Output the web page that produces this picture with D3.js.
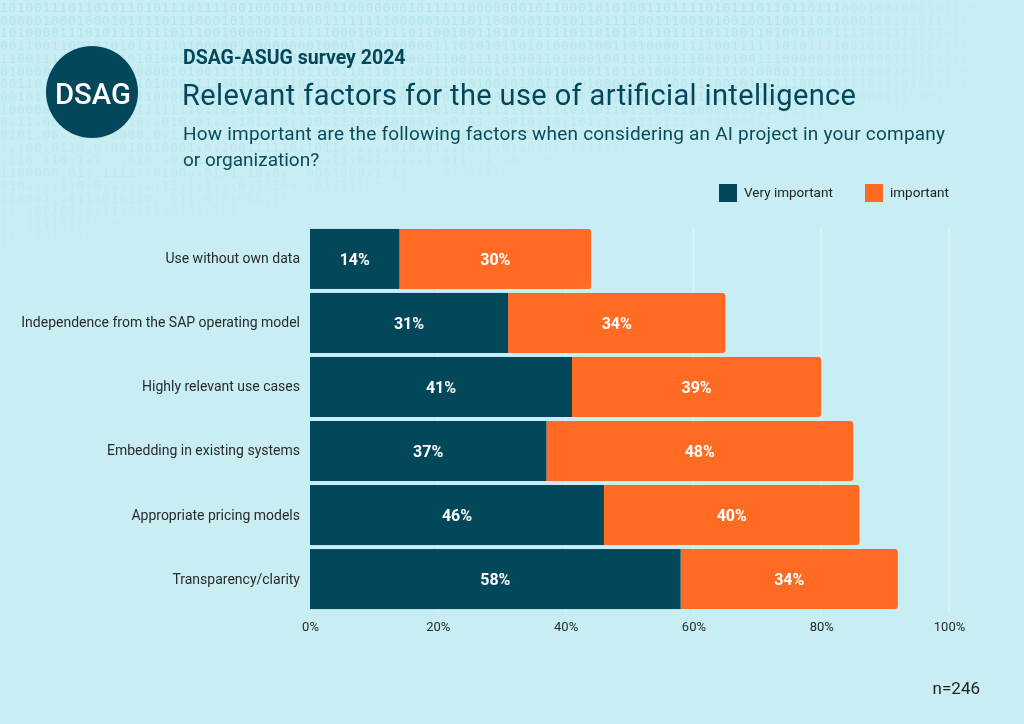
<!DOCTYPE html>
<html>
<head>
<meta charset="utf-8">
<script src="https://cdn.jsdelivr.net/npm/d3@7/dist/d3.min.js"></script>
<style>
html,body{margin:0;padding:0;background:#c8eef3;}
#wrap{position:relative;width:1024px;height:724px;}
#bg{position:absolute;left:0;top:0;}
svg{position:absolute;left:0;top:0;display:block;}
</style>
</head>
<body>
<div id="wrap">
<canvas id="bg" width="1024" height="724"></canvas>
<svg id="chart" width="1024" height="724"></svg>
</div>
<script>
const categories = ["Use without own data","Independence from the SAP operating model","Highly relevant use cases","Embedding in existing systems","Appropriate pricing models","Transparency/clarity"];
const veryImportant = [14,31,41,37,46,58];
const important = [30,34,39,48,40,34];
const seriesNames = ["Very important","important"];
const tickValues = [0,20,40,60,80,100];
const colors = ["#03475b","#ff6b22"];

const W = 1024, H = 724;

// decorative binary texture (background canvas)
(function(){
  const ctx = document.getElementById("bg").getContext("2d");
  ctx.fillStyle = "#c8eef3"; ctx.fillRect(0,0,W,H);
  let seed = 11;
  const rnd = () => { seed = (seed*1103515245 + 12345) % 2147483648; return seed/2147483648; };
  ctx.textAlign = "center"; ctx.textBaseline = "alphabetic";
  for(let r=0;r<22;r++){
    const yy = 12 + r*12.7;
    const rowMaxX = r < 8 ? 1010 : Math.max(120, 1010 - (r-7)*75);
    for(let c=0;c<120;c++){
      const xx = 4 + c*8.5;
      if(xx > rowMaxX) break;
      let a = 0.42 * (1 - Math.max(0,(xx-(rowMaxX-250))/250));
      a *= (1 - r/26);
      if(r>8 && rnd()<0.35){ ctx.font = "7px DejaVu Sans Mono"; } else { ctx.font = "13px DejaVu Sans Mono"; }
      if(a<=0) continue;
      ctx.fillStyle = `rgba(150,214,226,${a})`;
      ctx.fillText(rnd()<0.5?"0":"1", xx, yy);
    }
  }
})();

const svg = d3.select("#chart");

// logo
svg.append("circle").attr("cx",92).attr("cy",92).attr("r",46).attr("fill","#03475b");
svg.append("text").attr("x",93).attr("y",104).attr("text-anchor","middle")
  .attr("font-family","Roboto").attr("font-weight",500).attr("font-size",30).attr("fill","#fff")
  .attr("textLength",76).attr("lengthAdjust","spacingAndGlyphs").text("DSAG");

// titles
svg.append("text").attr("x",183).attr("y",64).attr("font-family","Roboto").attr("font-weight",700)
  .attr("font-size",19.5).attr("fill","#03475b").text("DSAG-ASUG survey 2024");
svg.append("text").attr("x",182).attr("y",105).attr("font-family","Roboto").attr("font-weight",400)
  .attr("font-size",29).attr("fill","#03475b").attr("textLength",674).text("Relevant factors for the use of artificial intelligence");
svg.append("text").attr("x",183).attr("y",140).attr("font-family","Roboto")
  .attr("font-size",19).attr("fill","#0b4a5c").attr("textLength",762).text("How important are the following factors when considering an AI project in your company");
svg.append("text").attr("x",183).attr("y",166).attr("font-family","Roboto")
  .attr("font-size",19).attr("fill","#0b4a5c").text("or organization?");

// legend
const legendX = [719,865];
seriesNames.forEach((n,i)=>{
  svg.append("rect").attr("x",legendX[i]).attr("y",184).attr("width",18).attr("height",18).attr("fill",colors[i]);
  svg.append("text").attr("x",legendX[i]+25).attr("y",197).attr("font-family","Roboto")
    .attr("font-size",13.5).attr("fill","#222").text(n);
});

// scales
const x = d3.scaleLinear().domain([0,100]).range([310,949]);
const y = d3.scaleBand().domain(categories).range([227,611]).paddingInner(0.0625).paddingOuter(0.03);

// gridlines
svg.append("g").selectAll("line").data(tickValues.slice(1)).join("line")
  .attr("x1",d=>x(d)).attr("x2",d=>x(d)).attr("y1",227).attr("y2",612)
  .attr("stroke","#e2f6f9").attr("stroke-width",1);

// bars
const rows = categories.map((c,i)=>({c, v:veryImportant[i], im:important[i]}));
const bars = svg.append("g");
rows.forEach(d=>{
  const y0 = y(d.c), h = y.bandwidth();
  const x0 = x(d.v), x1 = x(d.v+d.im), r = 3;
  bars.append("path").attr("fill",colors[1])
    .attr("d",`M${x0},${y0}H${x1-r}Q${x1},${y0} ${x1},${y0+r}V${y0+h-r}Q${x1},${y0+h} ${x1-r},${y0+h}H${x0}Z`);
  bars.append("rect").attr("x",x(0)).attr("y",y0).attr("width",x(d.v)-x(0)).attr("height",h).attr("fill",colors[0]);
  bars.append("text").attr("x",(x(0)+x(d.v))/2).attr("y",y0+h/2).attr("dy","0.36em").attr("text-anchor","middle")
    .attr("font-family","Roboto").attr("font-weight",700).attr("font-size",16).attr("fill","#fff").text(d.v+"%");
  bars.append("text").attr("x",(x0+x1)/2).attr("y",y0+h/2).attr("dy","0.36em").attr("text-anchor","middle")
    .attr("font-family","Roboto").attr("font-weight",700).attr("font-size",16).attr("fill","#fff").text(d.im+"%");
});

// y axis labels
const ya = svg.append("g").attr("transform","translate(310,0)")
  .call(d3.axisLeft(y).tickSize(0).tickPadding(10));
ya.select(".domain").remove();
ya.selectAll("text").attr("font-family","Roboto").attr("font-size",14).attr("fill","#2a2a2a");

// x axis
const xa = svg.append("g").attr("transform","translate(0,612)")
  .call(d3.axisBottom(x).tickValues(tickValues).tickFormat(d=>d+"%").tickSize(0).tickPadding(10));
xa.select(".domain").remove();
xa.selectAll("text").attr("font-family","Roboto").attr("font-size",13).attr("fill","#2a2a2a");

// n
svg.append("text").attr("x",980).attr("y",694).attr("text-anchor","end").attr("font-family","Roboto")
  .attr("font-size",17).attr("fill","#222").text("n=246");
</script>
</body>
</html>
